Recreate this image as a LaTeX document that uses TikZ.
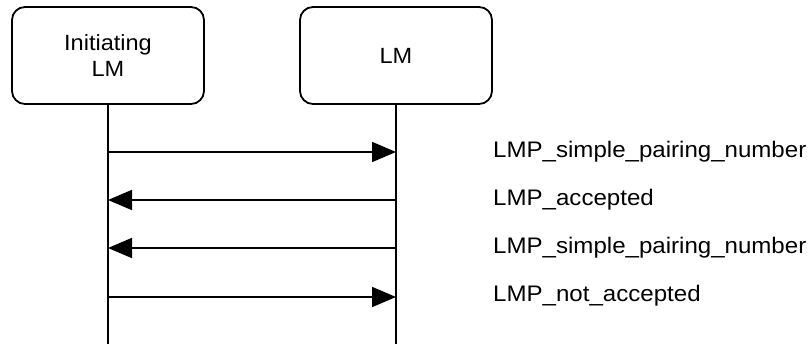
\documentclass[tikz,border=0pt]{standalone}
\usepackage{fontspec}
\setmainfont{Liberation Sans}
\newfontfamily\wide[FakeStretch=1.07]{Liberation Sans}
\usetikzlibrary{arrows.meta}
\begin{document}
\begin{tikzpicture}[x=1pt,y=-1pt,
  entity/.style={draw,line width=1.8pt,rounded corners=13pt,minimum width=192pt,minimum height=97pt,align=center,font=\wide\fontsize{22}{27.7}\selectfont,inner sep=0pt},
  life/.style={line width=1.8pt},
  msg/.style={line width=1.8pt,-{Triangle[length=24pt,width=20pt]}},
  lbl/.style={anchor=base west,font=\wide\fontsize{22.5}{24}\selectfont,inner sep=0pt}]
\useasboundingbox (0,0) rectangle (808,344);
\node[entity] (a) at (108,55.5) {\raisebox{-3pt}{\shortstack{Initiating\\[3.5pt]LM}}};
\node[entity] (b) at (396,55.5) {LM};
\coordinate (ae) at (108,344);
\coordinate (be) at (396,344);
\draw[life] (a.south) -- (ae);
\draw[life] (b.south) -- (be);
\foreach \y/\n in {152/1,200/2,248/3,297/4}{
  \coordinate (l\n) at (108,\y);
  \coordinate (r\n) at (396,\y);
}
\draw[msg] (l1) -- (r1);
\draw[msg] (r2) -- (l2);
\draw[msg] (r3) -- (l3);
\draw[msg] (l4) -- (r4);
\node[lbl] (t1) at (493,157.3) {LMP\_simple\_pairing\_number};
\node[lbl] (t2) at (493,205.5) {LMP\_accepted};
\node[lbl] (t3) at (493,253.5) {LMP\_simple\_pairing\_number};
\node[lbl] (t4) at (493,302) {LMP\_not\_accepted};
\end{tikzpicture}
\end{document}
